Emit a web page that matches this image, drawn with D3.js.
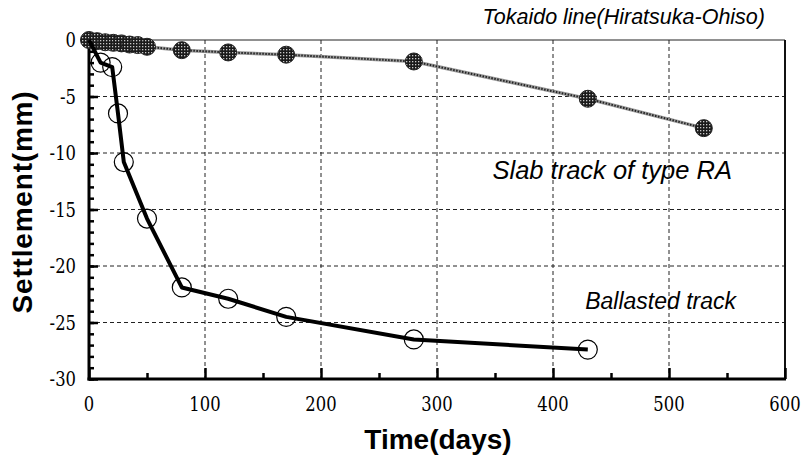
<!DOCTYPE html>
<html>
<head>
<meta charset="utf-8">
<script src="https://cdn.jsdelivr.net/npm/d3@7"></script>
<style>
  body { margin: 0; background: #fff; }
  svg { display: block; }
</style>
</head>
<body>
<svg id="chart" width="808" height="458"></svg>
<script>
// data
var slabDays = [0, 7, 14, 21, 28, 35, 42, 50, 80, 120, 170, 280, 430, 530];
var slabSettle = [0, -0.1, -0.2, -0.25, -0.3, -0.4, -0.45, -0.6, -0.9, -1.1, -1.3, -1.9, -5.2, -7.8];
var ballastDays = [0, 10, 20, 25, 30, 50, 80, 120, 170, 280, 430];
var ballastSettle = [0, -2.0, -2.4, -6.5, -10.8, -15.8, -21.9, -22.9, -24.5, -26.5, -27.4];
var xTicks = [0, 100, 200, 300, 400, 500, 600];
var yTicks = [0, -5, -10, -15, -20, -25, -30];

var svg = d3.select("#chart");
var plotL = 89, plotR = 785, plotT = 40, plotB = 379;

var x = d3.scaleLinear().domain([0, 600]).range([plotL, plotR]);
var y = d3.scaleLinear().domain([0, -30]).range([plotT, plotB]);

// marker fill texture
var defs = svg.append("defs");
var pat = defs.append("pattern")
  .attr("id", "hatch")
  .attr("patternUnits", "userSpaceOnUse")
  .attr("width", 3).attr("height", 3);
pat.append("rect").attr("width", 3).attr("height", 3).attr("fill", "#1a1a1a");
pat.append("rect").attr("x", 1).attr("y", 1).attr("width", 1.3).attr("height", 1.3).attr("fill", "#c8c8c8");

// grid
var grid = svg.append("g").attr("stroke", "#222").attr("stroke-width", 1).attr("stroke-dasharray", "4,3");
grid.selectAll("line.v").data(xTicks.slice(1, -1)).enter().append("line")
  .attr("x1", function (d) { return x(d); }).attr("x2", function (d) { return x(d); })
  .attr("y1", plotT).attr("y2", plotB);
grid.selectAll("line.h").data(yTicks.slice(1, -1)).enter().append("line")
  .attr("x1", plotL).attr("x2", plotR)
  .attr("y1", function (d) { return y(d); }).attr("y2", function (d) { return y(d); });

// frame
svg.append("line").attr("x1", plotL).attr("x2", plotR).attr("y1", plotT).attr("y2", plotT)
  .attr("stroke", "#222").attr("stroke-width", 1);
svg.append("line").attr("x1", plotR).attr("x2", plotR).attr("y1", plotT).attr("y2", plotB)
  .attr("stroke", "#111").attr("stroke-width", 2);

// inward ticks
function styleAxis(g) {
  g.select(".domain").remove();
  g.selectAll("line").attr("stroke", "#000").attr("stroke-width", 2.5);
  g.selectAll("text").remove();
}
svg.append("g").attr("transform", "translate(" + plotL + ",0)")
  .call(d3.axisLeft(y).tickValues(d3.range(0, -31, -1)).tickSize(-5)).call(styleAxis);
svg.append("g").attr("transform", "translate(" + plotL + ",0)")
  .call(d3.axisLeft(y).tickValues(yTicks).tickSize(-9)).call(styleAxis);
svg.append("g").attr("transform", "translate(0," + plotB + ")")
  .call(d3.axisBottom(x).tickValues(d3.range(50, 600, 100)).tickSize(-6)).call(styleAxis);
svg.append("g").attr("transform", "translate(0," + plotB + ")")
  .call(d3.axisBottom(x).tickValues(xTicks).tickSize(-11)).call(styleAxis);

// axis lines
svg.append("line").attr("x1", plotL).attr("x2", plotL).attr("y1", plotT).attr("y2", plotB + 1.5)
  .attr("stroke", "#000").attr("stroke-width", 3);
svg.append("line").attr("x1", plotL - 1.5).attr("x2", plotR + 1).attr("y1", plotB).attr("y2", plotB)
  .attr("stroke", "#000").attr("stroke-width", 3);

// tick labels (narrow serif)
var tickFont = "DejaVu Serif, Liberation Serif, serif";
svg.append("g").selectAll("text").data(yTicks).enter().append("text")
  .attr("transform", function (d) { return "translate(" + (plotL - 13) + "," + (y(d) + 7) + ") scale(0.78,1)"; })
  .attr("text-anchor", "end").attr("font-family", tickFont).attr("font-size", 21)
  .text(function (d) { return d === 0 ? "0" : "-" + Math.abs(d); });
svg.append("g").selectAll("text").data(xTicks).enter().append("text")
  .attr("transform", function (d) { return "translate(" + x(d) + "," + (plotB + 32) + ") scale(0.78,1)"; })
  .attr("text-anchor", "middle").attr("font-family", tickFont).attr("font-size", 21)
  .text(function (d) { return d; });

// slab track series
var slabPts = slabDays.map(function (d, i) { return [d, slabSettle[i]]; });
var line = d3.line().x(function (d) { return x(d[0]); }).y(function (d) { return y(d[1]); });
svg.append("path").attr("d", line(slabPts)).attr("fill", "none")
  .attr("stroke", "#999").attr("stroke-width", 3.5);
svg.append("path").attr("d", line(slabPts)).attr("fill", "none")
  .attr("stroke", "#222").attr("stroke-width", 2).attr("stroke-dasharray", "1.5,1.5");
svg.append("g").selectAll("circle").data(slabPts).enter().append("circle")
  .attr("cx", function (d) { return x(d[0]); }).attr("cy", function (d) { return y(d[1]); })
  .attr("r", 8.5).attr("fill", "url(#hatch)").attr("stroke", "#222").attr("stroke-width", 1);

// ballasted track series
var ballastPts = ballastDays.map(function (d, i) { return [d, ballastSettle[i]]; });
svg.append("path").attr("d", line(ballastPts)).attr("fill", "none")
  .attr("stroke", "#000").attr("stroke-width", 4).attr("stroke-linejoin", "round");
svg.append("g").selectAll("circle").data(ballastPts.slice(1)).enter().append("circle")
  .attr("cx", function (d) { return x(d[0]); }).attr("cy", function (d) { return y(d[1]); })
  .attr("r", 9.5).attr("fill", "none").attr("stroke", "#000").attr("stroke-width", 1.2);

// annotations
var annFont = "Liberation Sans, Arial, sans-serif";
svg.append("text").attr("x", 765).attr("y", 24).attr("text-anchor", "end")
  .attr("font-family", annFont).attr("font-style", "italic").attr("font-size", 21.5)
  .text("Tokaido line(Hiratsuka-Ohiso)");
svg.append("text").attr("x", 732).attr("y", 179).attr("text-anchor", "end")
  .attr("font-family", annFont).attr("font-style", "italic").attr("font-size", 25.5)
  .text("Slab track of type RA");
svg.append("text").attr("x", 736).attr("y", 309).attr("text-anchor", "end")
  .attr("font-family", annFont).attr("font-style", "italic").attr("font-size", 23)
  .text("Ballasted track");

// axis titles
svg.append("text").attr("x", 438).attr("y", 449).attr("text-anchor", "middle")
  .attr("font-family", annFont).attr("font-weight", "bold").attr("font-size", 28)
  .text("Time(days)");
svg.append("text").attr("transform", "translate(32,202) rotate(-90)").attr("text-anchor", "middle")
  .attr("font-family", annFont).attr("font-weight", "bold").attr("font-size", 28)
  .attr("letter-spacing", 0.8)
  .text("Settlement(mm)");
</script>
</body>
</html>
